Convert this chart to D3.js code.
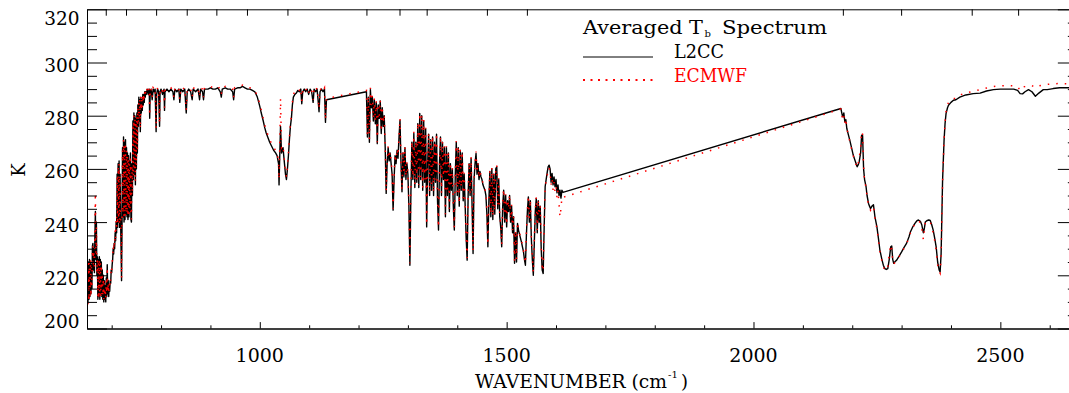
<!DOCTYPE html>
<html><head><meta charset="utf-8">
<script src="https://cdn.jsdelivr.net/npm/d3@7"></script>
<style>
html,body{margin:0;padding:0;background:#fff;}
svg{display:block;}
text{font-family:"DejaVu Serif",serif;fill:#000;}
</style>
</head><body>
<svg id="c" width="1069" height="393"></svg>
<script>
// ---------- DATA ----------
const wavenumber = [
// 650-700
650,651,652,653,654,655,656,657,658,659,
660,661,662,663,664,665,666,667,668,669,
670,671,672,673,674,675,676,677,678,679,
680,681,682,683,684,685,686,687,688,689,
690,691,692,693,694,695,696,697,698,699,700,
// 701-770
701,702,703,704,705,706,707,708,709,710,
711,712,713,714,715,716,717,718,719,720,
721,722,723,724,725,726,727,728,729,730,
731,732,733,734,735,736,737,738,739,740,
741,742,743,744,745,746,747,748,749,750,
751,752,753,754,755,756,757,758,759,760,
761,762,763,764,765,766,767,768,769,770,
// 772-995
772,774,776,777,778,780,782,784,786,788,
790,791,793,795,797,798,800,803,806,807,
808,812,816,820,824,826,828,832,836,838,
840,844,848,851,853,856,860,863,865,870,
875,878,880,884,886,888,895,900,905,910,
915,920,922,924,930,935,940,945,947,949,
955,960,965,970,975,980,985,990,995,
// 1000-1074
1000,1003,1007,1010,1013,1017,1020,1024,1028,1032,
1035,1038,1039,1040,1042,1044,1047,1050,1052,1054,
1056,1058,1060,1062,1064,1066,1068,1071,1074,
// 1077-1135
1077,1080,1083,1085,1087,1090,1093,1096,1099,1102,
1105,1108,1110,1113,1116,1118,1120,1122,1125,1128,
1131,1133,1135,
// 1216-1614
1216,1218,1220,1222,1224,1226,1228,1230,1232,1234,
1236,1238,1240,1242,1244,1246,1248,1250,1252,1254,
1256,1258,1260,1262,1264,1266,1268,1270,1272,1274,
1276,1278,1280,1282,1284,1286,1288,1290,1292,1294,
1296,1298,1300,1302,1304,1306,1308,1310,1312,1314,
1316,1318,1320,1322,1324,1326,1328,1330,1332,1334,
1336,1338,1340,1342,1344,1346,1348,1350,1352,1354,
1356,1358,1360,1362,1364,1366,1368,1370,1372,1374,
1376,1378,1380,1382,1384,1386,1388,1390,1392,1394,
1396,1398,1400,1402,1404,1406,1408,1410,1412,1414,
1416,1418,1420,1422,1424,1426,1428,1430,1432,1434,
1436,1438,1440,1442,1444,1446,1448,1450,1452,1454,
1456,1458,1460,1462,1464,1466,1468,1470,1472,1474,
1476,1478,1480,1482,1484,1486,1488,1490,1492,1494,
1496,1498,1500,1502,1504,1506,1508,1510,1512,1514,
1516,1518,1520,1522,1524,1526,1528,1530,1532,1534,
1536,1538,1540,1542,1544,1546,1548,1550,1552,1554,
1556,1558,1560,1562,1564,1566,1568,1570,1572,1574,
1576,1578,1580,1582,1584,1586,1588,1590,1592,1594,
1596,1598,1600,1602,1604,1606,1608,1610,1612,1614,
// 2177-2405
2177,2180,2181,2183,2185,2187,2189,2192,2195,2198,
2202,2206,2210,2212,2214,2217,2219,2221,2223,2225,
2228,2230,2233,2235,2237,2240,2243,2246,2250,2253,
2256,2260,2263,2266,2269,2272,2275,2278,2280,2282,
2284,2287,2290,2295,2300,2305,2310,2315,2318,2322,
2327,2331,2334,2338,2341,2344,2346,2348,2351,2355,
2358,2361,2364,2367,2370,2373,2376,2378,2380,2381,
2383,2386,2388,2390,2393,2395,2400,2405,
// 2410-2657
2410,2418,2430,2445,2459,2472,2486,2500,2515,2527,
2535,2540,2545,2550,2557,2564,2571,2578,2587,2595,
2607,2620,2635,2650,2657
];

const l2cc = [
212,224,210,225,211,226,212,225,213,224,
215,231,232,222,230,221,235,244,226,240,
220,227,211,226,212,227,211,226,213,225,
212,222,211,220,210,218,211,216,210,219,
212,224,213,218,212,216,214,218,217,222,221,
224,226,230,228,232,230,236,233,240,236,
258,238,262,240,263,238,258,242,230,218,
240,268,242,272,240,270,241,271,243,268,
242,266,241,265,242,263,244,266,241,240,
262,250,278,256,281,258,280,254,279,260,
281,266,284,276,287,278,286,274,287,281,
286,282,288,284,288,285,289,287,289,288,
290,288,290,279,289,290,286,290,289,290,
274,288,290,289,276,289,290,288,290,282,
289,290,289,290,289,286,290,289,290,285,
290,289,290,281,289,290,289,286,290,289,
290,286,290,289,286,290,290,290.5,290,290,
290.5,289,287,290,290.5,290,290,289,286,290,
290.5,290.5,291,290.5,290,290,289.5,289,287,
283.5,281,278,275.5,273.5,271.5,270,268.5,267,266,
265,262,254,262,276,266,268,262,258,256,
260,265,271,276,279,284,287,288,288.5,
289.5,289,290,284.5,289,290,289,290,288,290,
289,285,290,289,290,286,281.5,289,290,289,
290,277.5,286,
289,272,287,270,289.8,283,287,278,286,277,
285,269.5,284,279,285.5,273.3,283,276,280,268,
250.8,262,268,263,266,262,258,244.5,256,265,
262,267,264,272,278.3,262,251.4,266,257,268,
256,262,258,246,223.8,250,270,256,273.3,253,
270,255,277,253,280.8,256,280,252,278,255,
275,238.2,262,273,250,271,252,272,250,270,
255,273,248,237,262,272,250,270,256,268,
242,268,250,266,244,262,252,260,246,237,
258,270,250,268,246,267,252,266,248,258,
246,234,225.7,250,262,250,264,246,228.2,256,
262,265.8,258,262,256,259,257,256,254,253,
252,250,243,230.7,248,259,242,260,241,258,
243,260,260.8,245,256,242,238,230.7,246,252,
240,250,238.2,248,244,250,240,246,236,242,
224.5,236,225,239.5,237,235.5,234,232.5,230.7,229,
226,223.8,235,244,249.5,240,248,234,226,220,
232,244,248.9,236,248,240,246,230,222,220.7,
238,253.3,256,258.5,260.8,261.4,260,255,258.3,254,
257,253.3,256,251,254,250,252,249,252,251.2,
282.7,280,279.6,281,277.7,278.5,275.2,273,270.8,268.5,
265.2,263,260.8,261.5,262.6,266,272.7,272.5,260,256,
253.3,250,247,246,245.1,246,246.5,242,238.2,234,
229.5,226,223.8,222.5,222.2,222.5,226,230.7,231,226,
224.5,225.2,225.7,227.2,228.8,230.5,232,234.5,236.4,238,
239.5,240.5,240.8,240.3,238.9,236,237.5,240,240.5,240.8,
240.6,239,237,234,230.7,225,222,221.3,228,237,
255.8,270.8,277,280.8,283,283.9,285,285.8,
286,287,287.8,288.3,288.5,289.3,289.8,290,290,290,
289.5,288.3,288.2,289,289.8,289,287.3,288.5,289.8,289.8,
290.2,290.5,290.5,290.6,290.5
];

const ecmwf = [
214,223,209,226,210,225,211,226,212,223,
216,230,231,223,229,222,238,251,228,238,
221,226,212,225,211,226,212,225,212,224,
213,221,212,219,211,217,212,215,211,218,
213,223,214,217,213,217,215,219,218,223,222,
225,227,231,229,233,231,237,234,241,237,
257,239,261,241,262,239,257,243,231,219,
241,267,243,271,241,269,242,270,244,267,
243,265,242,264,243,262,245,265,242,241,
261,251,277,257,280,259,279,255,278,261,
280,267,283,277,286,279,286,275,287,282,
286,283,288,285,288.5,286,289.5,288,289.5,288.5,
290.5,289,290.5,280,289.5,290.5,287,290.5,290,290.5,
275,289,290.5,290,277,289.5,290.5,289,290.5,283,
289.5,290.5,290,290.5,289.5,287,290.5,290,290.5,286,
290.5,290,290.5,282,290,290.5,290,287,290.5,290,
290.5,287,290.5,290,287,290.5,290.5,291,290.5,290.5,
291,290,288,290.5,291,290.5,290.5,290,287,290.5,
291,291,291.5,291,290.5,290.5,290,289.5,287.5,
284.5,282,279,276.5,274.5,272.5,271,269.5,268,267,
266,263,256,264,286.5,268,269,263,259,257,
261,266,272,277,280,285,288,289,289,
290,289.5,290.5,285.5,289.5,290.5,289.5,290.5,288.5,290.5,
289.5,286,290.5,289.5,290.5,287,282.5,289.5,290.5,289.5,
290.5,278.5,286.5,
289.5,273,287.5,271,290.5,284,287.5,279,286.5,278,
285.5,270,284.5,280,286,274,283.5,277,280.5,269,
251.5,263,268.5,264,266.5,263,259,245,257,265.5,
263,267.5,265,272.5,279,263,252,266.5,258,268.5,
257,262.5,259,247,224.5,251,270.5,257,274,254,
270.5,256,277.5,254,281,257,280.5,253,278.5,256,
275.5,239,262.5,273.5,251,271.5,253,272.5,251,270.5,
256,273.5,249,238,262.5,272.5,251,270.5,257,268.5,
243,268.5,251,266.5,245,262.5,253,260.5,247,238,
258.5,270.5,251,268.5,247,267.5,253,266.5,249,258.5,
247,235,226.5,251,262.5,251,264.5,247,229,256.5,
262.5,266.5,258.5,262.5,256.5,259.5,257.5,256.5,254.5,253.5,
252.5,250.5,244,231.5,249,259.5,243,260.5,242,258.5,
244,260.5,261.5,246,256.5,243,239,231.5,247,252.5,
241,250.5,239,248.5,245,250.5,241,246.5,237,242.5,
225.5,237,226,240,237.5,236,234.5,233,231.5,229.5,
227,224.5,236,244.5,250,241,248.5,235,227,221,
233,244.5,249.5,237,248.5,241,246.5,231,223,221.5,
238.5,253,255.5,257.5,259.5,260.5,258.5,254,256.5,252,
255,251.5,253.5,249,252,247,242,245,249.5,249.3,
282.5,279,280.5,280,277,279,275.5,272.5,270.5,268,
265,262.5,260.5,262,264,268,274,273,261,255.5,
253,249.5,246.5,245.5,244.5,245.5,246,241.5,237.5,233.5,
229,225.5,223.2,222,221.8,223,228,231.5,230,225.5,
224.2,225,225.5,227,228.5,230.2,231.8,234.2,236,237.8,
239.2,240.2,240.5,239.8,237.5,233.5,236.8,239.8,240.2,240.5,
240.2,238,236,233,229.5,224,221.5,220.8,227,236,
255,271,277.5,281.5,284,285,286,286.5,
286.5,287.8,288.5,289.2,289.8,290.4,291,291.3,291.3,291.2,
291,289.5,290.8,291,291.4,291.3,290.5,291.2,291.6,291.8,
292,292.1,292,292.2,292
];

const xDomain = [650, 2657];
const yDomain = [200, 320];
const xMajorTicks = [1000, 1500, 2000, 2500];
const xMinorTicks = [700, 800, 900, 1100, 1200, 1300, 1400, 1600, 1700, 1800, 1900, 2100, 2200, 2300, 2400, 2600];
const moduleEdgeTicks = [688, 729, 790, 852, 912, 974, 1056, 1216, 1283, 1338, 1460, 1541, 2181, 2299, 2442, 2536];
const yMajorTicks = [200, 220, 240, 260, 280, 300, 320];
const yMinorTicks = [205, 210, 215, 225, 230, 235, 245, 250, 255, 265, 270, 275, 285, 290, 295, 305, 310, 315];
const seriesNames = ["L2CC", "ECMWF"];
const legendTitle = ["Averaged T", "b", "Spectrum"];
const xTitle = ["WAVENUMBER (cm", "-1", ")"];
const yTitle = "K";

// ---------- DRAW ----------
const svg = d3.select("#c");
const L = 87, T = 9.3, B = 328.5;
const pxPerUnit = 0.4937;
const R = L + (xDomain[1] - xDomain[0]) * pxPerUnit;
const x = d3.scaleLinear().domain(xDomain).range([L, R]);
const y = d3.scaleLinear().domain(yDomain).range([B, T]);

svg.append("defs").append("clipPath").attr("id", "clip")
  .append("rect").attr("x", L).attr("y", T).attr("width", R - L).attr("height", B - T);

const l2ccPts = wavenumber.map((w, i) => [w, l2cc[i]]);
const ecmwfPts = wavenumber.map((w, i) => [w, ecmwf[i]]);
const line = d3.line().x(d => x(d[0])).y(d => y(d[1]));

const g = svg.append("g").attr("clip-path", "url(#clip)");
g.append("path").datum(l2ccPts).attr("d", line)
  .attr("fill", "none").attr("stroke", "#000").attr("stroke-width", 1.4)
  .attr("stroke-linejoin", "round");
g.append("path").datum(ecmwfPts).attr("d", line)
  .attr("fill", "none").attr("stroke", "#ff0000").attr("stroke-width", 1.5)
  .attr("stroke-dasharray", "1.5,7");

function styleAxis(sel) {
  sel.selectAll("path,line").attr("stroke", "#000").attr("stroke-width", 1);
  sel.selectAll("text").remove();
}
// bottom
svg.append("g").attr("transform", `translate(0,${B})`)
  .call(d3.axisBottom(x).tickValues(xMajorTicks).tickSize(-6.4).tickSizeOuter(0).tickFormat(""))
  .call(styleAxis);
svg.append("g").attr("transform", `translate(0,${B})`)
  .call(d3.axisBottom(x).tickValues(xMinorTicks).tickSize(-3.2).tickSizeOuter(0).tickFormat(""))
  .call(styleAxis);
// top
svg.append("g").attr("transform", `translate(0,${T})`)
  .call(d3.axisTop(x).tickValues(moduleEdgeTicks).tickSize(-6.4).tickSizeOuter(0).tickFormat(""))
  .call(styleAxis);
// left
svg.append("g").attr("transform", `translate(${L},0)`)
  .call(d3.axisLeft(y).tickValues(yMajorTicks).tickSize(-20).tickSizeOuter(0).tickFormat(""))
  .call(styleAxis);
svg.append("g").attr("transform", `translate(${L},0)`)
  .call(d3.axisLeft(y).tickValues(yMinorTicks).tickSize(-10).tickSizeOuter(0).tickFormat(""))
  .call(styleAxis);
// right
svg.append("g").attr("transform", `translate(${R},0)`)
  .call(d3.axisRight(y).tickValues(yMajorTicks).tickSize(-20).tickSizeOuter(0).tickFormat(""))
  .call(styleAxis);
svg.append("g").attr("transform", `translate(${R},0)`)
  .call(d3.axisRight(y).tickValues(yMinorTicks).tickSize(-10).tickSizeOuter(0).tickFormat(""))
  .call(styleAxis);

// y tick labels
svg.append("g").selectAll("text").data(yMajorTicks).join("text")
  .attr("x", 79.5)
  .attr("y", d => d === yDomain[1] ? 25 : d === yDomain[0] ? 328 : y(d) + 9.5)
  .attr("text-anchor", "end").attr("font-size", 18.5)
  .text(d => d);
// x tick labels
svg.append("g").selectAll("text").data(xMajorTicks).join("text")
  .attr("x", d => x(d)).attr("y", 362)
  .attr("text-anchor", "middle").attr("font-size", 19)
  .text(d => d);

// axis titles
svg.append("text").attr("x", 475).attr("y", 388).attr("font-size", 18)
  .attr("textLength", 192).attr("lengthAdjust", "spacingAndGlyphs").text(xTitle[0]);
svg.append("text").attr("x", 668).attr("y", 378).attr("font-size", 10).text(xTitle[1]);
svg.append("text").attr("x", 681).attr("y", 388).attr("font-size", 18).text(xTitle[2]);

svg.append("text").attr("transform", "translate(25,170) rotate(-90)")
  .attr("text-anchor", "middle").attr("font-size", 18).text(yTitle);

// legend
svg.append("text").attr("x", 583).attr("y", 33.5).attr("font-size", 18)
  .attr("textLength", 120).attr("lengthAdjust", "spacingAndGlyphs").text(legendTitle[0]);
svg.append("text").attr("x", 704.5).attr("y", 37).attr("font-size", 10).text(legendTitle[1]);
svg.append("text").attr("x", 722).attr("y", 33.5).attr("font-size", 18)
  .attr("textLength", 105).attr("lengthAdjust", "spacingAndGlyphs").text(legendTitle[2]);

svg.append("line").attr("x1", 583).attr("x2", 653).attr("y1", 57).attr("y2", 57)
  .attr("stroke", "#000").attr("stroke-width", 1);
svg.append("text").attr("x", 674).attr("y", 57.5).attr("font-size", 18)
  .attr("textLength", 50).attr("lengthAdjust", "spacingAndGlyphs").text(seriesNames[0]);
svg.append("line").attr("x1", 583).attr("x2", 653).attr("y1", 80).attr("y2", 80)
  .attr("stroke", "#ff0000").attr("stroke-width", 2).attr("stroke-dasharray", "2,5.5");
svg.append("text").attr("x", 674).attr("y", 81.5).attr("font-size", 18)
  .style("fill", "#ff0000")
  .attr("textLength", 73).attr("lengthAdjust", "spacingAndGlyphs").text(seriesNames[1]);
</script>
</body></html>
